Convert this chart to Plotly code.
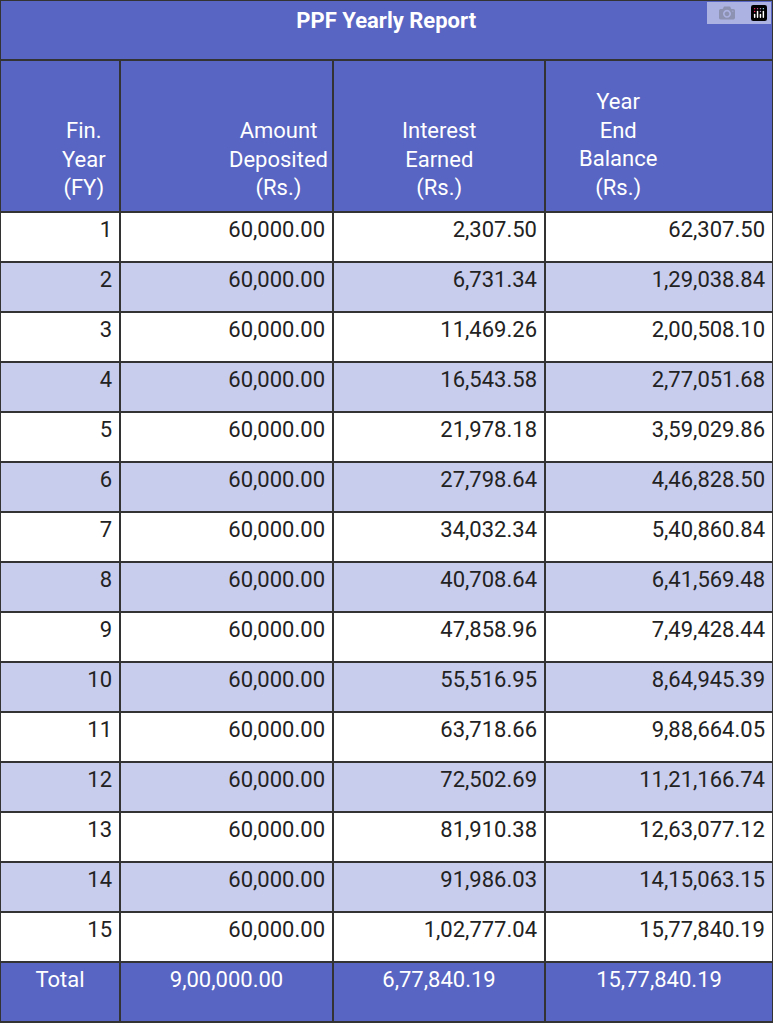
import plotly.graph_objects as go

fy = [str(i) for i in range(1, 16)]
deposited = ["60,000.00"] * 15
interest = ["2,307.50", "6,731.34", "11,469.26", "16,543.58", "21,978.18", "27,798.64",
            "34,032.34", "40,708.64", "47,858.96", "55,516.95", "63,718.66", "72,502.69",
            "81,910.38", "91,986.03", "1,02,777.04"]
balance = ["62,307.50", "1,29,038.84", "2,00,508.10", "2,77,051.68", "3,59,029.86",
           "4,46,828.50", "5,40,860.84", "6,41,569.48", "7,49,428.44", "8,64,945.39",
           "9,88,664.05", "11,21,166.74", "12,63,077.12", "14,15,063.15", "15,77,840.19"]
headers = ["Fin.<br>Year<br>(FY)", "Amount<br>Deposited<br>(Rs.)",
           "Interest<br>Earned<br>(Rs.)", "Year<br>End<br>Balance<br>(Rs.)"]
totals = ["Total", "9,00,000.00", "6,77,840.19", "15,77,840.19"]

W, H = 773, 1024
widths = [120, 213, 212, 228]
blue = "#5865c2"
light = "#c8cced"
line = dict(color="#333333", width=1.5)

row_fill = ["white" if i % 2 == 0 else light for i in range(15)]

fig = go.Figure()
# title bar
fig.add_trace(go.Table(
    domain=dict(x=[0, 1], y=[1 - 60 / H, 1]),
    columnwidth=[1],
    header=dict(values=["<b>PPF Yearly Report</b>"], fill_color=blue, line=line,
                font=dict(family="Roboto", size=22, color="white"), height=60, align="center"),
    cells=dict(values=[[]])
))
# main table, header text drawn as annotations so lines centre properly
fig.add_trace(go.Table(
    domain=dict(x=[0, 1], y=[60 / H, 1 - 60 / H]),
    columnwidth=widths,
    header=dict(values=["", "", "", ""], fill_color=blue, line=line, height=152),
    cells=dict(values=[fy, deposited, interest, balance], fill_color=[row_fill] * 4,
               line=line, height=50, align="right",
               font=dict(family="Roboto", size=22, color="#222222"))
))
# total row
fig.add_trace(go.Table(
    domain=dict(x=[0, 1], y=[0, 62 / H]),
    columnwidth=widths,
    header=dict(values=totals, fill_color=blue, line=line, height=60, align="center",
                font=dict(family="Roboto", size=22, color="white")),
    cells=dict(values=[[]] * 4)
))

left = 0
for w, txt in zip(widths, headers):
    fig.add_annotation(x=(left + w / 2) / W, y=1 - 203 / H, xref="paper", yref="paper",
                       text=txt, showarrow=False, align="center", yanchor="bottom",
                       font=dict(family="Roboto", size=22, color="white"))
    left += w

fig.update_layout(width=W, height=H, margin=dict(l=0, r=0, t=0, b=0),
                  paper_bgcolor="white")
fig.write_html("out.html", post_script="document.body.style.margin='0';")
